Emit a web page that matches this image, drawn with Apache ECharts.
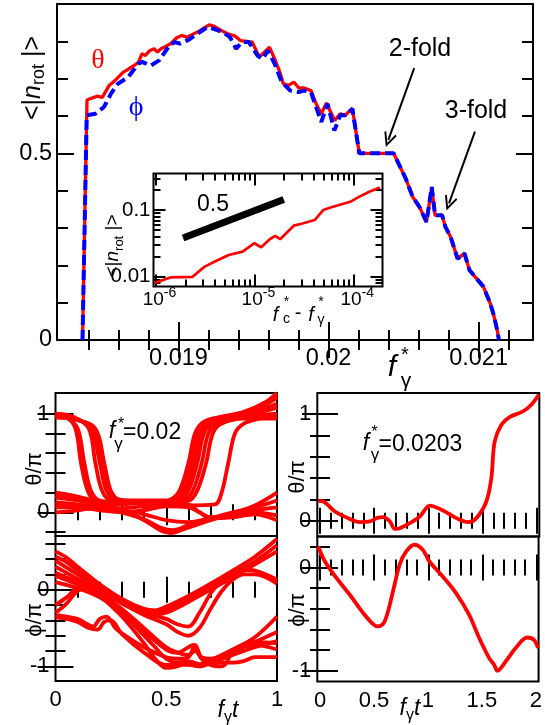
<!DOCTYPE html>
<html><head><meta charset="utf-8">
<script src="https://cdn.jsdelivr.net/npm/echarts@6/dist/echarts.min.js"></script>
<style>html,body{margin:0;padding:0;background:#fff}#c{width:545px;height:725px}</style>
</head><body><div id="c"></div><script>
const FONT='Liberation Sans', SERIF='Liberation Serif';
// ---------- main panel: <|n_rot|> vs f*_gamma ----------
const fTheta=[0.01836,0.01839,0.018423,0.018457,0.018492,0.018538,0.018584,0.01863,0.018676,0.01871,0.018733,0.018757,0.018779,0.018807,0.018837,0.01886,0.018883,0.018917,0.018952,0.018986,0.019021,0.019055,0.01909,0.019136,0.01917,0.019205,0.019239,0.019285,0.019331,0.019377,0.019412,0.019457,0.019492,0.019538,0.019572,0.019607,0.019641,0.019676,0.019699,0.019733,0.019768,0.019802,0.019837,0.019883,0.019917,0.019952,0.019986,0.020041,0.020078,0.020112,0.020159,0.020205,0.020434,0.020515,0.020561,0.020607,0.020653,0.020688,0.02071,0.020757,0.020779,0.020814,0.02086,0.020906,0.02094,0.020986,0.021032,0.021078,0.021101,0.021124,0.021136];
const nTheta=[0,0.643,0.648,0.653,0.650,0.682,0.698,0.717,0.728,0.737,0.744,0.767,0.762,0.775,0.780,0.771,0.780,0.787,0.795,0.809,0.816,0.811,0.818,0.827,0.836,0.844,0.840,0.829,0.820,0.814,0.802,0.800,0.798,0.758,0.771,0.784,0.753,0.717,0.686,0.682,0.691,0.675,0.675,0.668,0.633,0.606,0.635,0.588,0.606,0.602,0.621,0.5,0.5,0.432,0.383,0.356,0.316,0.410,0.334,0.334,0.303,0.276,0.218,0.232,0.187,0.165,0.143,0.098,0.067,0.027,0];
const fPhi=[0.01836,0.018388,0.018446,0.018503,0.01855,0.018595,0.018664,0.018733,0.018757,0.018814,0.018871,0.01894,0.018974,0.019009,0.019067,0.019124,0.019193,0.019239,0.019297,0.019343,0.019384,0.019423,0.019469,0.019526,0.019561,0.019595,0.019641,0.019688,0.019745,0.019802,0.019837,0.019883,0.019917,0.019952,0.019993,0.020039,0.020078,0.020112,0.020159,0.020205,0.020434,0.020515,0.020561,0.020607,0.020653,0.020688,0.02071,0.020757,0.020779,0.020814,0.02086,0.020906,0.02094,0.020986,0.021032,0.021078,0.021101,0.021124,0.021136];
const nPhi=[0,0.602,0.606,0.624,0.66,0.686,0.704,0.74,0.745,0.735,0.749,0.789,0.798,0.794,0.804,0.820,0.838,0.833,0.824,0.811,0.780,0.798,0.798,0.762,0.753,0.775,0.740,0.691,0.668,0.664,0.668,0.664,0.624,0.584,0.633,0.561,0.602,0.602,0.619,0.5,0.5,0.432,0.383,0.356,0.316,0.410,0.334,0.334,0.303,0.276,0.218,0.232,0.187,0.165,0.143,0.098,0.067,0.027,0];
const mainXLabels=[0.019,0.02,0.021];
const mainYLabels=[0,0.5];
// arrows (data coordinates: tail, head)
const arrow2Fold=[[0.020571,0.728],[0.020399,0.536]];
const arrow3Fold=[[0.020976,0.558],[0.020803,0.366]];
// ---------- inset: log-log ----------
const dfInset=[0.98e-6,1.41e-6,2.37e-6,3.14e-6,3.99e-6,5.5e-6,7.6e-6,1.0e-5,1.17e-5,1.43e-5,1.62e-5,1.82e-5,2.5e-5,2.94e-5,4.07e-5,4.96e-5,6.0e-5,9.3e-5,1.14e-4,1.45e-4,1.85e-4];
const nInset=[0.0080,0.0097,0.0099,0.0141,0.0168,0.0211,0.0237,0.0317,0.0276,0.0364,0.0408,0.0364,0.0582,0.0617,0.0708,0.100,0.110,0.133,0.158,0.188,0.219];
const slopeDf=[1.9e-6,1.98e-5];
const slopeN=[0.038,0.144];
const insetXDecades=[1e-6,1e-5,1e-4];
const insetYDecades=[0.01,0.1];
// ---------- bottom-left: f*=0.02, many trajectories ----------
const thetaLeft=[
 [[0,1.0],[0.05,0.97],[0.09,0.85],[0.115,0.5],[0.145,0.22],[0.18,0.12],[0.3,0.1],[0.45,0.1],[0.52,0.13],[0.56,0.22],[0.6,0.5],[0.63,0.8],[0.67,0.92],[0.75,0.97],[0.85,1.02],[0.95,1.12],[1,1.21]],
 [[0,0.99],[0.05,0.96],[0.1,0.85],[0.13,0.5],[0.16,0.22],[0.2,0.12],[0.3,0.1],[0.45,0.09],[0.54,0.12],[0.58,0.22],[0.62,0.5],[0.65,0.8],[0.69,0.92],[0.78,0.97],[0.9,1.04],[1,1.16]],
 [[0,1.0],[0.08,0.97],[0.15,0.85],[0.18,0.5],[0.21,0.22],[0.25,0.12],[0.35,0.11],[0.45,0.1],[0.55,0.12],[0.59,0.22],[0.63,0.5],[0.66,0.8],[0.7,0.91],[0.8,0.96],[0.9,1.02],[1,1.1]],
 [[0,0.98],[0.08,0.96],[0.16,0.85],[0.2,0.5],[0.23,0.22],[0.27,0.12],[0.4,0.1],[0.56,0.12],[0.6,0.22],[0.64,0.5],[0.67,0.8],[0.71,0.9],[0.8,0.95],[0.9,1.0],[1,1.06]],
 [[0,0.97],[0.08,0.95],[0.17,0.85],[0.21,0.5],[0.24,0.22],[0.28,0.12],[0.4,0.11],[0.58,0.12],[0.62,0.22],[0.66,0.5],[0.69,0.8],[0.73,0.9],[0.82,0.95],[0.9,0.98],[1,1.0]],
 [[0,0.96],[0.09,0.94],[0.18,0.85],[0.22,0.5],[0.25,0.22],[0.29,0.13],[0.4,0.12],[0.6,0.12],[0.64,0.22],[0.68,0.5],[0.71,0.8],[0.75,0.9],[0.85,0.95],[1,0.95]],
 [[0,0.17],[0.1,0.13],[0.2,0.1],[0.3,0.09],[0.4,0.09],[0.5,0.1],[0.55,0.15],[0.59,0.3],[0.62,0.6],[0.65,0.82],[0.7,0.92],[0.8,0.97],[0.9,1.05],[1,1.18]],
 [[0,0.08],[0.1,0.05],[0.2,0.03],[0.3,0.04],[0.4,0.06],[0.5,0.07],[0.6,0.07],[0.72,0.08],[0.75,0.2],[0.78,0.5],[0.81,0.8],[0.85,0.9],[0.92,0.95],[1,0.98]],
 [[0,0.2],[0.1,0.16],[0.2,0.1],[0.3,0.02],[0.4,-0.08],[0.48,-0.19],[0.52,-0.21],[0.58,-0.17],[0.7,-0.08],[0.8,-0.01],[0.9,0.07],[1,0.2]],
 [[0,0.15],[0.1,0.12],[0.2,0.07],[0.3,0.0],[0.4,-0.07],[0.48,-0.16],[0.53,-0.18],[0.6,-0.13],[0.7,-0.06],[0.8,0.0],[0.9,0.05],[1,0.12]],
 [[0,0.1],[0.1,0.08],[0.2,0.05],[0.3,0.02],[0.4,-0.02],[0.5,-0.08],[0.6,-0.1],[0.7,-0.06],[0.8,-0.02],[0.9,0.02],[1,0.05]],
 [[0,0.05],[0.1,0.05],[0.2,0.02],[0.3,0.0],[0.4,0.02],[0.5,0.06],[0.6,0.05],[0.65,0.0],[0.7,-0.05],[0.8,-0.04],[0.9,0.0],[1,-0.03]],
 [[0,0.0],[0.1,0.02],[0.2,0.06],[0.3,0.08],[0.4,0.1],[0.5,0.1],[0.6,0.08],[0.65,0.0],[0.7,-0.06],[0.8,-0.05],[0.9,-0.02],[1,-0.08]]
];
const phiLeft=[
 [[0,0.5],[0.05,0.42],[0.1,0.3],[0.2,0.07],[0.3,-0.12],[0.4,-0.25],[0.45,-0.27],[0.5,-0.22],[0.6,-0.08],[0.7,0.08],[0.8,0.25],[0.9,0.43],[1,0.66]],
 [[0,0.43],[0.05,0.36],[0.1,0.25],[0.2,0.05],[0.3,-0.13],[0.4,-0.27],[0.45,-0.3],[0.5,-0.26],[0.6,-0.12],[0.7,0.04],[0.8,0.2],[0.9,0.37],[1,0.58]],
 [[0,0.38],[0.1,0.2],[0.2,0.03],[0.3,-0.14],[0.4,-0.28],[0.45,-0.32],[0.5,-0.3],[0.6,-0.16],[0.7,0.0],[0.8,0.16],[0.9,0.33],[1,0.5]],
 [[0,0.3],[0.1,0.14],[0.2,0.0],[0.3,-0.16],[0.4,-0.3],[0.5,-0.38],[0.55,-0.45],[0.6,-0.48],[0.65,-0.3],[0.7,-0.05],[0.75,0.12],[0.8,0.22],[0.85,0.26],[0.9,0.25],[1,0.13]],
 [[0,0.22],[0.1,0.1],[0.2,-0.02],[0.3,-0.18],[0.4,-0.33],[0.5,-0.45],[0.55,-0.55],[0.6,-0.6],[0.65,-0.5],[0.7,-0.25],[0.75,-0.02],[0.8,0.13],[0.85,0.2],[0.9,0.2],[1,0.08]],
 [[0,0.18],[0.1,0.07],[0.2,-0.05],[0.3,-0.25],[0.4,-0.5],[0.5,-0.75],[0.55,-0.82],[0.6,-0.85],[0.63,-0.8],[0.66,-0.88],[0.7,-0.9],[0.8,-0.8],[0.9,-0.68],[1,-0.55]],
 [[0,0.1],[0.1,0.02],[0.2,-0.1],[0.3,-0.3],[0.4,-0.55],[0.5,-0.78],[0.55,-0.82],[0.6,-0.75],[0.62,-0.72],[0.66,-0.9],[0.7,-0.95],[0.8,-0.95],[0.85,-0.93],[0.9,-0.88],[1,-0.88]],
 [[0,-0.2],[0.05,-0.1],[0.1,0.02],[0.15,0.03],[0.2,-0.05],[0.3,-0.3],[0.4,-0.6],[0.45,-0.75],[0.5,-0.9],[0.55,-0.95],[0.6,-0.93],[0.65,-0.97],[0.7,-0.92],[0.8,-0.78],[0.9,-0.62],[1,-0.35]],
 [[0,-0.3],[0.05,-0.18],[0.1,-0.02],[0.15,0.02],[0.2,-0.08],[0.3,-0.35],[0.4,-0.7],[0.45,-0.9],[0.5,-1.02],[0.55,-1.0],[0.6,-0.95],[0.65,-1.0],[0.7,-0.96],[0.8,-0.85],[0.9,-0.75],[1,-0.67]],
 [[0,-0.33],[0.05,-0.35],[0.1,-0.38],[0.15,-0.46],[0.17,-0.48],[0.2,-0.38],[0.23,-0.35],[0.27,-0.5],[0.3,-0.57],[0.4,-0.75],[0.5,-0.88],[0.55,-0.9],[0.6,-0.88],[0.63,-0.72],[0.66,-0.9],[0.7,-0.98],[0.75,-1.0],[0.77,-0.96],[0.8,-0.82],[0.9,-0.72],[1,-0.78]],
 [[0,-0.36],[0.05,-0.38],[0.1,-0.42],[0.15,-0.5],[0.19,-0.52],[0.22,-0.42],[0.25,-0.4],[0.3,-0.58],[0.4,-0.82],[0.5,-0.98],[0.6,-0.98],[0.65,-1.0],[0.7,-0.94],[0.8,-0.8],[0.9,-0.68],[1,-0.7]]
];
// ---------- bottom-right: f*=0.0203, single trajectory ----------
const tThetaRight=[-0.016,0.03,0.138,0.246,0.369,0.461,0.522,0.584,0.645,0.691,0.737,0.829,0.922,1.014,1.122,1.26,1.367,1.444,1.536,1.582,1.613,1.675,1.751,1.874,1.951,2.02];
const thetaRight=[0.187,0.181,0.087,0.031,-0.012,-0.006,0.025,0.035,-0.006,-0.075,-0.069,-0.022,0.04,0.143,0.103,0.025,-0.012,0.025,0.181,0.4,0.743,0.9,0.972,1.024,1.087,1.18];
const tPhiRight=[-0.016,0.046,0.154,0.276,0.4,0.491,0.537,0.599,0.676,0.737,0.799,0.876,0.952,1.014,1.137,1.26,1.382,1.475,1.567,1.613,1.643,1.72,1.813,1.92,1.982,2.02];
const phiRight=[0.203,0.058,-0.103,-0.264,-0.441,-0.548,-0.571,-0.523,-0.232,0.026,0.155,0.22,0.171,0.058,-0.087,-0.248,-0.458,-0.683,-0.877,-0.942,-1.0,-0.91,-0.78,-0.678,-0.7,-0.78];
const bottomLeftXLabels=[0,0.5,1];
const bottomRightXLabels=[0,0.5,1,1.5,2];

// ---------- build axes ----------
const zip=(a,b)=>a.map((v,i)=>[v,b[i]]);
const seq=(a,b,s)=>{const r=[];for(let k=0;a+k*s<=b+1e-12;k++)r.push(+(a+k*s).toFixed(6));return r;};
const grids=[],xAxes=[],yAxes=[];
function tick(vals,len){return vals&&vals.length?{show:true,inside:true,length:len,customValues:vals,lineStyle:{color:'#000',width:2}}:{show:false};}
function lab(l){if(!l)return{show:false};const o={show:true,customValues:l.v,fontSize:l.fs,fontFamily:FONT,color:'#000',margin:l.m};if(l.f)o.formatter=l.f;return o;}
function panel(r,o){
  const g=grids.length;
  grids.push({left:r[0],top:r[1],width:r[2],height:r[3],show:true,borderColor:'#000',borderWidth:2,backgroundColor:o.bg||'transparent'});
  grids.push({left:r[0],top:r[1],width:r[2],height:r[3],show:false});
  const base=(gi,pos,rg)=>({type:'value',gridIndex:gi,position:pos,min:rg[0],max:rg[1],axisLine:{show:false},splitLine:{show:false}});
  const xi=xAxes.length, yi=yAxes.length;
  xAxes.push(Object.assign(base(g,'bottom',o.x),{axisTick:tick(o.xMin,o.xl[0]),axisLabel:lab(o.xLab)}));
  xAxes.push(Object.assign(base(g,'top',o.x),{axisTick:tick(o.xMin,o.xl[0]),axisLabel:{show:false}}));
  xAxes.push(Object.assign(base(g+1,'bottom',o.x),{axisTick:tick(o.xMaj,o.xl[1]),axisLabel:{show:false}}));
  xAxes.push(Object.assign(base(g+1,'top',o.x),{axisTick:tick(o.xMaj,o.xl[1]),axisLabel:{show:false}}));
  yAxes.push(Object.assign(base(g,'left',o.y),{axisTick:tick(o.yMin,o.yl[0]),axisLabel:lab(o.yLab)}));
  yAxes.push(Object.assign(base(g,'right',o.y),{axisTick:tick(o.yMin,o.yl[0]),axisLabel:{show:false}}));
  yAxes.push(Object.assign(base(g+1,'left',o.y),{axisTick:tick(o.yMaj,o.yl[1]),axisLabel:{show:false}}));
  yAxes.push(Object.assign(base(g+1,'right',o.y),{axisTick:tick(o.yMaj,o.yl[1]),axisLabel:{show:false}}));
  return {xi,yi,range:o};
}
// main
const M=panel([57,4,476,336],{
  x:[0.01819,0.021363], xMin:seq(0.0184,0.0212,0.0002), xMaj:mainXLabels, xl:[10,18],
  y:[0,0.9], yMin:seq(0.1,0.8,0.1), yMaj:[0.5], yl:[11,17],
  xLab:{v:mainXLabels,fs:23.5,m:7}, yLab:{v:mainYLabels,fs:23.5,m:5,f:v=>String(v)}
});
// inset (log10 of values on linear axes)
const L10=Math.log10;
const minorLog=(lo,hi)=>{const r=[];for(let n=lo;n<=hi;n++)for(let k=2;k<=9;k++)r.push(L10(k*Math.pow(10,n)));return r;};
const I=panel([153.5,173.5,229,113],{
  bg:'#fff',
  x:[-6.02,-3.705], xMin:minorLog(-6,-4), xMaj:insetXDecades.map(L10), xl:[7,12],
  y:[-2.15,-0.45], yMin:minorLog(-3,-1), yMaj:insetYDecades.map(L10), yl:[7,12],
  yLab:{v:insetYDecades.map(L10),fs:20.5,m:3,f:v=>v<-1.5?'0.01':'0.1'}
});
// bottom panels
const BLt=panel([55.5,393,221.5,143],{x:[0,1],xMin:seq(0.1,0.9,0.1).filter(v=>v!==0.5),xMaj:[0.5],xl:[8,13],
  y:[-0.24,1.21],yMin:[-0.2,0.2,0.4,0.6,0.8],yMaj:[0,1],yl:[10,18],yLab:{v:[0,1],fs:22,m:6}});
const BLp=panel([55.5,536,221.5,145],{x:[0,1],xMin:seq(0.1,0.9,0.1).filter(v=>v!==0.5),xMaj:[0.5],xl:[8,13],
  y:[-1.19,0.7],yMin:[-0.8,-0.6,-0.4,-0.2,0.2,0.4,0.6],yMaj:[-1,0],yl:[10,18],
  xLab:{v:bottomLeftXLabels,fs:22,m:8},yLab:{v:[-1,0],fs:22,m:6}});
const brTicks=seq(0.1,1.9,0.1).filter(v=>Math.abs(v*2-Math.round(v*2))>1e-6);
const BRt=panel([317.3,393,222,143.5],{x:[-0.025,2.025],xMin:brTicks,xMaj:[0,0.5,1,1.5,2],xl:[8,13],
  y:[-0.147,1.197],yMin:[0.2,0.4,0.6,0.8],yMaj:[0,1],yl:[10,18],yLab:{v:[0,1],fs:22,m:6}});
const BRp=panel([317.3,536.5,222,145],{x:[-0.025,2.025],xMin:brTicks,xMaj:[0,0.5,1,1.5,2],xl:[8,13],
  y:[-1.104,0.30],yMin:[-0.8,-0.6,-0.4,-0.2,0.2],yMaj:[-1,0],yl:[10,18],
  xLab:{v:bottomRightXLabels,fs:22,m:8},yLab:{v:[-1,0],fs:22,m:6}});

// ---------- series ----------
const RED='#ff0000', BLUE='#0000ff';
const chevron='path://M10 0 L20 17 L17.6 18.6 L10 5.6 L2.4 18.6 L0 17 Z';
const series=[];
series.push({type:'line',xAxisIndex:M.xi,yAxisIndex:M.yi,data:zip(fTheta,nTheta),showSymbol:false,z:3,
  lineStyle:{color:RED,width:3.3},
  markLine:{silent:true,symbol:['none',chevron],symbolSize:[13,15],label:{show:false},
    lineStyle:{color:'#000',width:2,type:'solid'},
    data:[[{coord:arrow2Fold[0]},{coord:arrow2Fold[1]}],[{coord:arrow3Fold[0]},{coord:arrow3Fold[1]}]]}});
series.push({type:'line',xAxisIndex:M.xi,yAxisIndex:M.yi,data:zip(fPhi,nPhi),showSymbol:false,z:4,
  lineStyle:{color:BLUE,width:4,type:[10,5]}});
series.push({type:'line',xAxisIndex:I.xi,yAxisIndex:I.yi,data:zip(dfInset.map(L10),nInset.map(L10)),showSymbol:false,z:5,
  lineStyle:{color:RED,width:2.7}});
series.push({type:'line',xAxisIndex:I.xi,yAxisIndex:I.yi,data:zip(slopeDf.map(L10),slopeN.map(L10)),showSymbol:false,z:5,
  lineStyle:{color:'#000',width:7,cap:'butt'}});
const traj=(c,P)=>({type:'line',xAxisIndex:P.xi,yAxisIndex:P.yi,data:c,showSymbol:false,smooth:0.35,z:3,
  lineStyle:{color:RED,width:3.8}});
thetaLeft.forEach(c=>series.push(traj(c,BLt)));
phiLeft.forEach(c=>series.push(traj(c,BLp)));
series.push(traj(zip(tThetaRight,thetaRight),BRt));
series.push(traj(zip(tPhiRight,phiRight),BRp));

// ---------- texts ----------
function T(x,y,text,fs,o){o=o||{};return{type:'text',x,y,rotation:o.rot||0,silent:true,z:100,
  style:{text,fontSize:fs,fontFamily:o.fam||FONT,fontStyle:o.it?'italic':'normal',fill:o.c||'#000',
    align:o.al||'center',textAlign:o.al||'center',verticalAlign:'middle',textVerticalAlign:'middle',rich:o.rich}};}
const richN=(fs)=>({n:{fontSize:fs,fontFamily:FONT,lineHeight:fs+6},i:{fontSize:fs,fontFamily:FONT,fontStyle:'italic',lineHeight:fs+6},
  sub:{fontSize:Math.round(fs*0.7),fontFamily:FONT,verticalAlign:'bottom',lineHeight:Math.round(fs*0.7)}});
const richSup={b:{fontSize:19,fontFamily:FONT,lineHeight:26},s:{fontSize:14,fontFamily:FONT,verticalAlign:'top',lineHeight:14}};
const ROT=Math.PI/2;
const graphics=[
  T(33,78,'{n|<|}{i|n}{sub|rot}{n| |>}',25,{rot:ROT,rich:richN(25)}),
  T(98,61,'θ',28,{fam:SERIF,c:RED}),
  T(136,108,'ϕ',28,{fam:SERIF,c:BLUE}),
  T(420,49,'2-fold',25),
  T(476,111,'3-fold',25),
  T(392,368,'f',30,{it:true}),
  T(405,355,'*',20),
  T(406,381,'γ',21),
  T(213,205,'0.5',23),
  T(113,246,'{n|<|}{i|n}{sub|rot}{n| |>}',19,{rot:ROT,rich:richN(19)}),
  T(275.5,315,'f',20,{it:true}),T(286.5,302,'*',14),T(286.5,319,'c',14),T(298,313,'-',20),
  T(311,315,'f',20,{it:true}),T(321,302,'*',14),T(321,320,'γ',14),
  T(112,432,'f',23,{it:true}),T(121,425,'*',16),T(118.5,444,'γ',17),T(123,433,'=0.02',23,{al:'left'}),
  T(34.5,469,'θ/π',22,{rot:ROT}),T(35,620,'ϕ/π',22,{rot:ROT}),
  T(228,711,'{i|f}{sub|γ}{i|t}',23,{rich:richN(23)}),
  T(366,444,'f',23,{it:true}),T(374.5,433,'*',16),T(375,455,'γ',17),T(378.5,445,'=0.0203',23,{al:'left'}),
  T(297.5,477,'θ/π',22,{rot:ROT}),T(298,610,'ϕ/π',22,{rot:ROT}),
  T(410,709,'{i|f}{sub|γ}{i|t}',23,{rich:richN(23)})
];

const chart=echarts.init(document.getElementById('c'),null,{renderer:'canvas'});
chart.setOption({animation:false,backgroundColor:'#fff',textStyle:{fontFamily:FONT},
  grid:grids,xAxis:xAxes,yAxis:yAxes,series,graphic:graphics});
// inset decade labels 10^n placed through the inset axes
const yBottom=chart.convertToPixel({yAxisIndex:I.yi},I.range.y[0]);
insetXDecades.forEach(d=>{
  const px=chart.convertToPixel({xAxisIndex:I.xi},L10(d));
  graphics.push(T(px+4,yBottom+13,'{b|10}{s|'+Math.round(L10(d))+'}',19,{rich:richSup}));
});
chart.setOption({graphic:graphics});
</script></body></html>
